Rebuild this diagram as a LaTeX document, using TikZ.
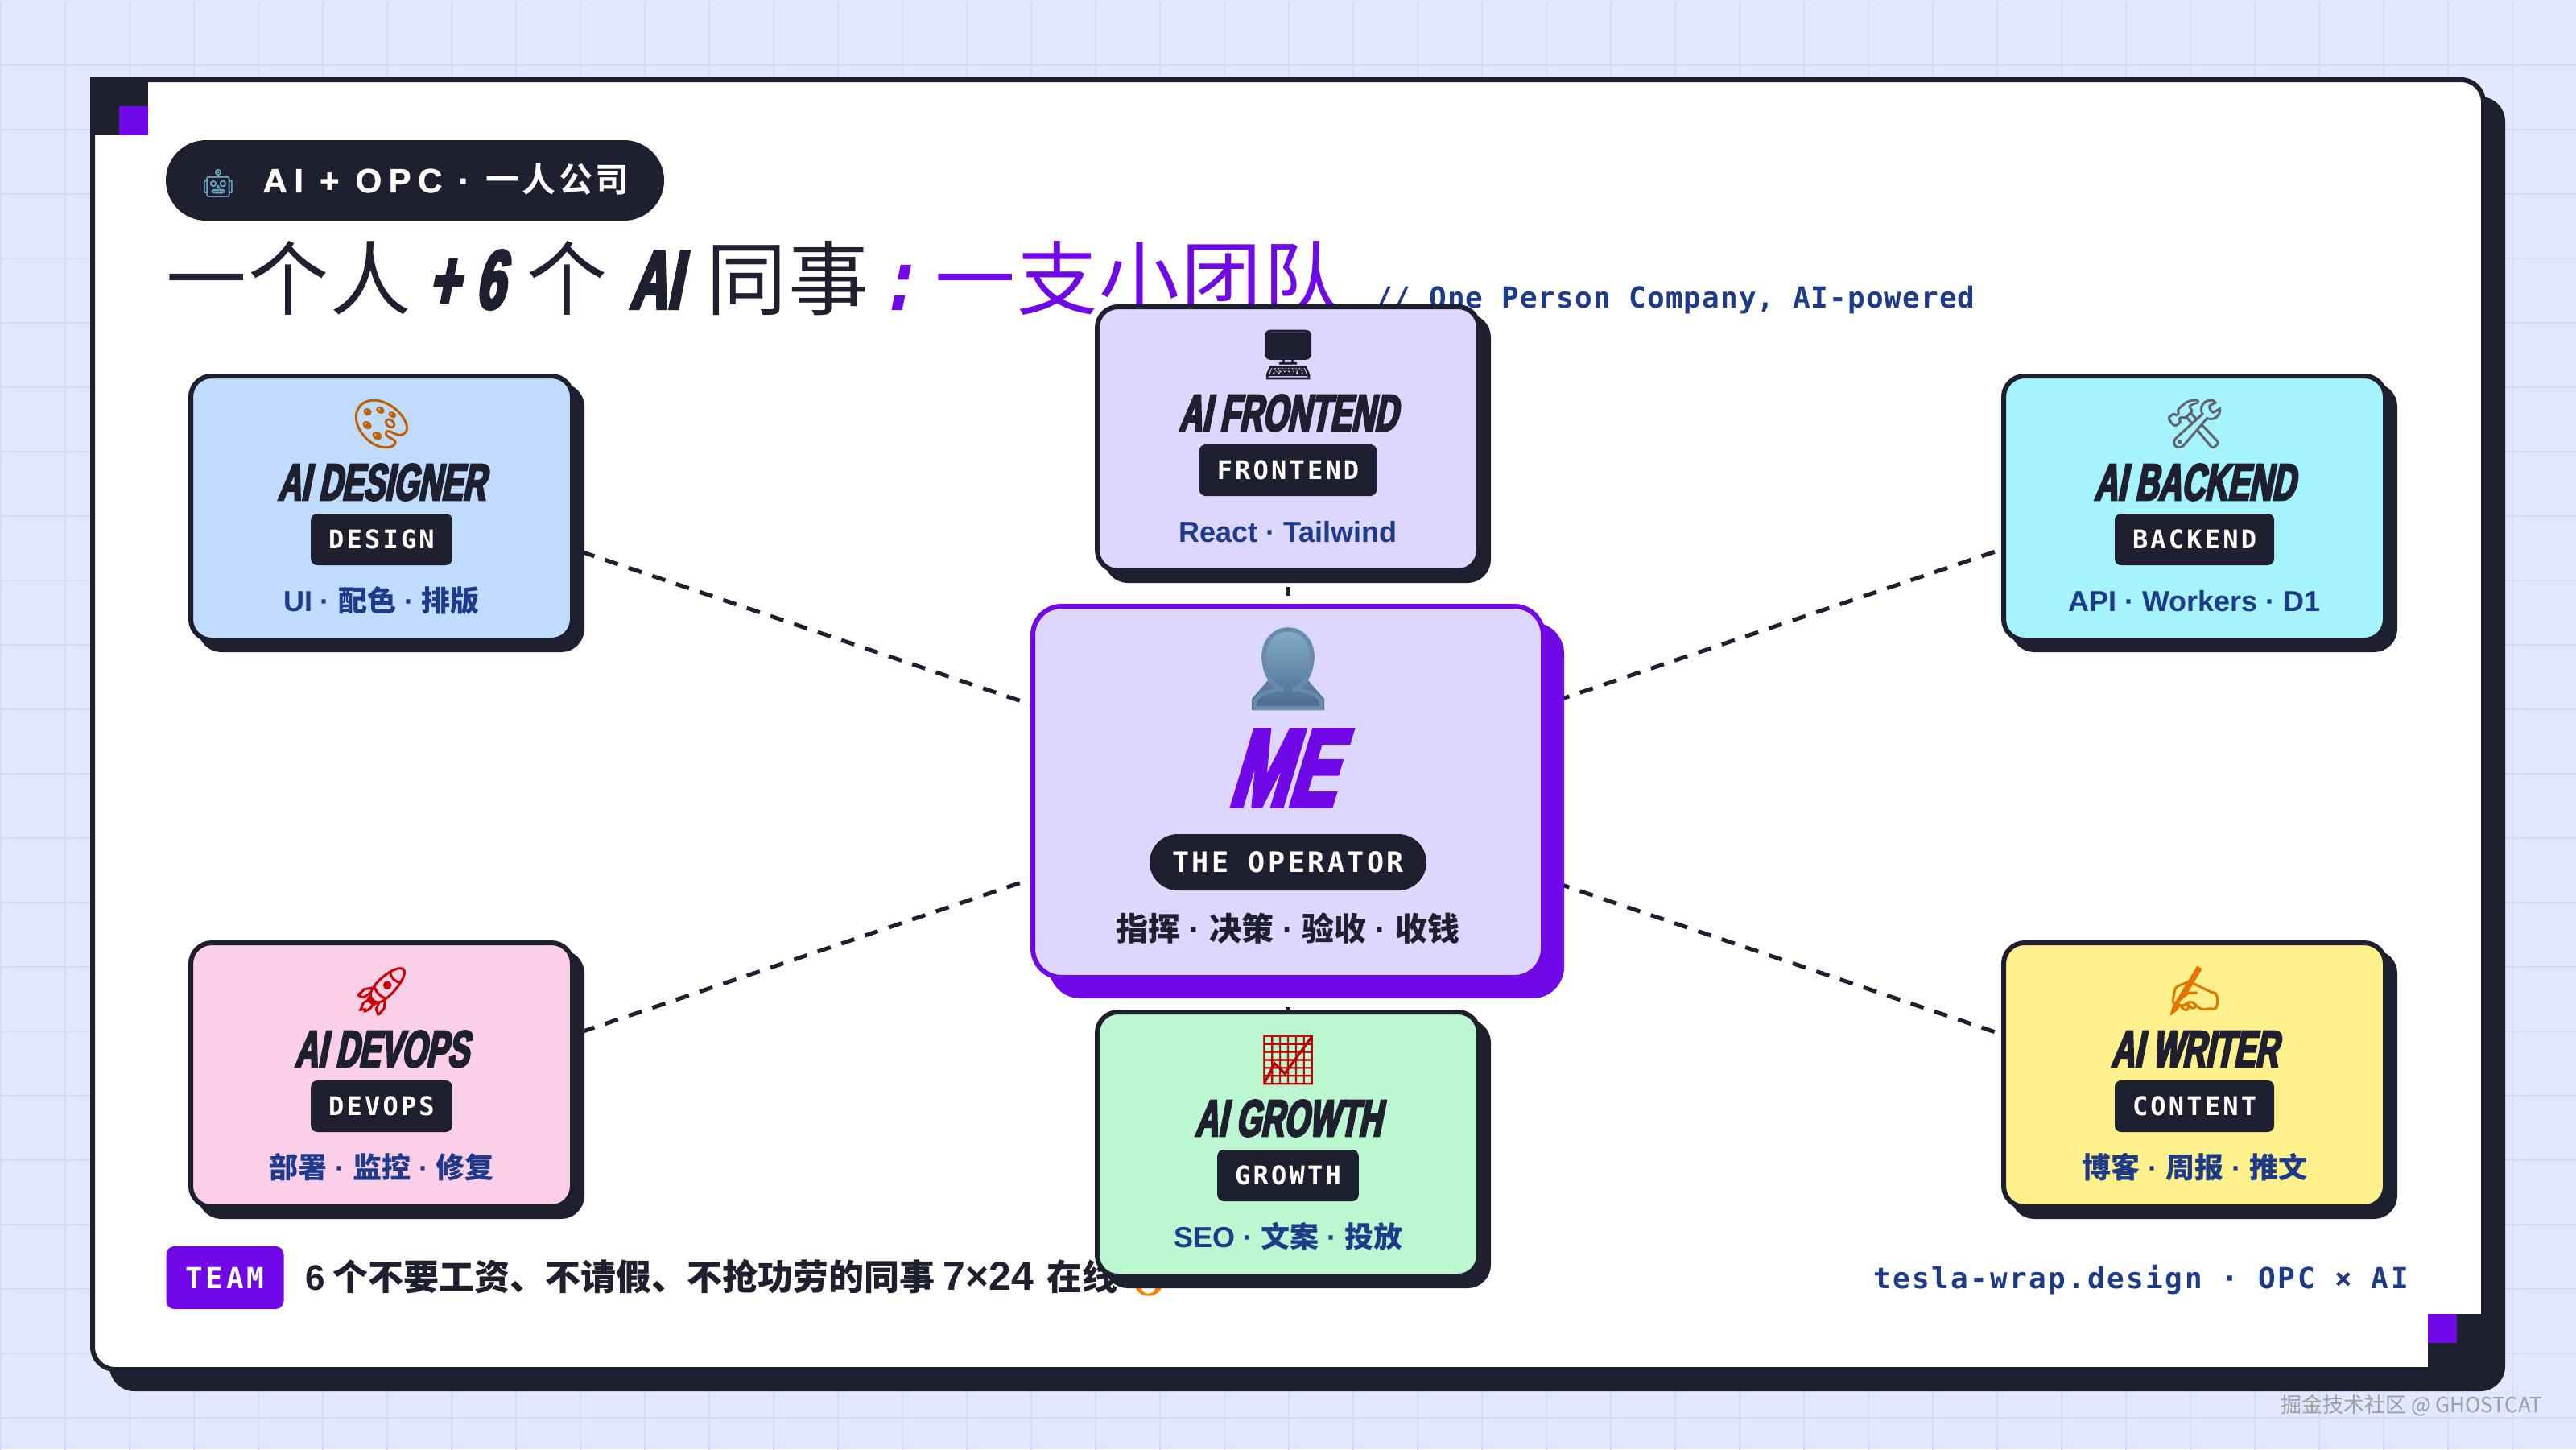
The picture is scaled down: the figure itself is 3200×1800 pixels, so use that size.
\documentclass[tikz,border=0pt]{standalone}
\usepackage{fontspec}
\setmainfont{Liberation Sans}
\newfontfamily\cjk{Noto Sans CJK SC}
\newfontfamily\cjktitle[LetterSpace=2]{Noto Sans CJK SC}
\newfontfamily\emojifont[FakeBold=1]{Noto Emoji}
\newfontfamily\comic[FakeStretch=0.62,FakeSlant=0.2,FakeBold=4]{Liberation Sans Bold}
\newfontfamily\comicbig[FakeStretch=0.64,FakeSlant=0.3,FakeBold=4]{Liberation Sans Bold}
\newfontfamily\tagfont[LetterSpace=10]{DejaVu Sans Mono Bold}
\newfontfamily\codefont[LetterSpace=3]{DejaVu Sans Mono Bold}
\newfontfamily\sitefont[LetterSpace=7]{DejaVu Sans Mono Bold}
\newfontfamily\badgefont[LetterSpace=20,FakeBold=1]{Liberation Sans Bold}
\newfontfamily\badgecjk[LetterSpace=8]{Noto Sans CJK SC Bold}
\usetikzlibrary{shadows, positioning}
\definecolor{ink}{HTML}{1E2030}
\definecolor{opcviolet}{HTML}{7008E7}
\definecolor{navy}{HTML}{1E3A8A}
\definecolor{paper}{HTML}{E0E7FF}
\definecolor{gridblue}{HTML}{D2DBFA}
\definecolor{lavender}{HTML}{DDD6FE}
\definecolor{skyfill}{HTML}{BFDBFE}
\definecolor{cyanfill}{HTML}{A5F3FC}
\definecolor{pinkfill}{HTML}{FBCFE8}
\definecolor{yellowfill}{HTML}{FEF08A}
\definecolor{greenfill}{HTML}{BBF7D0}
\definecolor{busttop}{HTML}{85AEC8}
\definecolor{bustbottom}{HTML}{4A6A8E}
\pgfdeclarelayer{back}
\pgfdeclarelayer{links}
\pgfsetlayers{back,links,main}
\tikzstyle{frame} = [rectangle, draw=ink, line width=6pt, fill=white, rounded corners=28pt, minimum width=2970pt, minimum height=1602pt, inner sep=0pt, outer sep=0pt, general shadow={shadow xshift=24pt, shadow yshift=-24pt, fill=ink, draw=ink, line width=6pt}]
\tikzstyle{card} = [rectangle, draw=ink, line width=6pt, rounded corners=26pt, minimum width=474pt, minimum height=328pt, inner sep=0pt, outer sep=0pt, general shadow={shadow xshift=12pt, shadow yshift=-12pt, fill=ink, draw=ink, line width=6pt}]
\tikzstyle{mecard} = [rectangle, draw=opcviolet, fill=lavender, line width=6pt, rounded corners=36pt, minimum width=634pt, minimum height=461pt, inner sep=0pt, outer sep=0pt, general shadow={shadow xshift=23pt, shadow yshift=-23pt, fill=opcviolet, draw=opcviolet, line width=6pt}]
\tikzstyle{cardicon} = [inner sep=0pt, outer sep=0pt, text height=48pt, text depth=8pt, font=\emojifont\fontsize{60}{60}\selectfont]
\tikzstyle{cardtitle} = [inner sep=0pt, outer sep=0pt, text=ink, text height=46pt, text depth=0pt, font=\comic\fontsize{64}{64}\selectfont]
\tikzstyle{cardtag} = [rectangle, fill=ink, text=white, rounded corners=8pt, minimum height=64pt, inner xsep=22pt, inner ysep=0pt, outer sep=0pt, text height=23pt, text depth=0pt, font=\tagfont\fontsize{32}{32}\selectfont]
\tikzstyle{cardsub} = [inner sep=0pt, outer sep=0pt, text=navy, text height=32pt, text depth=6pt, font=\fontsize{36}{36}\selectfont\bfseries]
\tikzstyle{link} = [draw=ink, line width=5pt, dash pattern=on 17pt off 14pt, dash phase=20pt]
\tikzstyle{shortlink} = [draw=ink, line width=5pt, dash pattern=on 11pt off 10.8pt]
\tikzstyle{square} = [rectangle, inner sep=0pt, outer sep=0pt]
\begin{document}
\begin{tikzpicture}[x=1pt, y=-1pt, node distance = 20pt]
	\useasboundingbox (0,0) rectangle (3200,1800);
	\begin{pgfonlayer}{back}
		\fill [paper] (0,0) rectangle (3200,1800);
		\draw [gridblue, line width=2pt, xshift=1pt, yshift=-1pt] (-1,1) grid [step=80pt] (3200,1800);
		\node (Frame) [frame] at (1600,900) {};
		\node (CornerTL) [square, fill=ink, minimum size=72pt, anchor=north west] at (112,96) {};
		\node (DotTL) [square, fill=opcviolet, minimum size=36pt, anchor=south east] at (CornerTL.south east) {};
		\node (CornerBR) [square, fill=ink, minimum size=72pt, anchor=north west] at (3016,1632) {};
		\node (DotBR) [square, fill=opcviolet, minimum size=36pt, anchor=north west] at (CornerBR.north west) {};
		\node (Badge) [rectangle, fill=ink, text=white, rounded corners=50pt, minimum width=619pt, minimum height=100pt, inner sep=0pt, outer sep=0pt, font=\badgefont\fontsize{42}{42}\selectfont] at (515.5,224) {{\emojifont\color{cyan!45!gray}\fontsize{34}{34}\selectfont 🤖}\hspace{34pt}AI + OPC · {\badgecjk 一人公司}};
		\node (Title) [anchor=base west, inner sep=0pt, text=ink, font=\cjktitle\fontsize{100}{100}\selectfont] at (206,383) {一个人\hspace{22pt}{\comic\fontsize{103}{103}\selectfont +\hspace{21pt}6}\hspace{28pt}个\hspace{28pt}{\comic\fontsize{103}{103}\selectfont AI}\hspace{32pt}同事\hspace{24pt}{\color{opcviolet}{\comic\fontsize{103}{103}\selectfont :}\hspace{36pt}一支小团队}};
		\node (Slogan) [anchor=base west, inner sep=0pt, text=navy, font=\codefont\fontsize{36}{36}\selectfont] at (1708,382) {// One Person Company, AI-powered};
		\node (Team) [rectangle, fill=opcviolet, text=white, rounded corners=10pt, minimum width=146pt, minimum height=78pt, inner sep=0pt, outer sep=0pt, font=\tagfont\fontsize{36}{36}\selectfont] at (279.5,1587) {TEAM};
		\node (Note) [anchor=base west, inner sep=0pt, text=ink, font=\cjk\fontsize{44}{44}\selectfont\bfseries] at (379,1602) {{\rmfamily\bfseries 6} 个不要工资、不请假、不抢功劳的同事 {\rmfamily\bfseries\fontsize{50}{50}\selectfont 7×24}\hspace{6pt} 在线 {\emojifont\color{orange}🔥}};
		\node (Site) [anchor=base east, inner sep=0pt, text=navy, font=\sitefont\fontsize{36}{36}\selectfont] at (2992,1600) {tesla-wrap.design · OPC × AI};
		\node (Mark) [anchor=base east, inner sep=0pt, text=gray!75, font=\cjk\fontsize{26}{26}\selectfont] at (3158,1754) {掘金技术社区 @ GHOSTCAT};
	\end{pgfonlayer}

	% centre card
	\node (Me) [mecard] at (1600,983.5) {};
	\shade [top color=busttop, bottom color=bustbottom] (1600,815) ellipse (33 and 36) (1575,845) -- (1625,845) -- (1645,868) -- (1645,882) -- (1555,882) -- (1555,868) -- cycle;
	\node (MeIcon) [inner sep=0pt, outer sep=0pt, text=busttop!50!bustbottom, text height=80pt, text depth=17pt, font=\emojifont\fontsize{100}{100}\selectfont, below = 32pt of Me.north] {👤};
	\node (MeTitle) [inner sep=0pt, outer sep=0pt, text=opcviolet, text height=98pt, text depth=0pt, xshift=-9pt, font=\comicbig\fontsize{137}{137}\selectfont, below = 21pt of MeIcon] {ME};
	\node (MeTag) [rectangle, fill=ink, text=white, rounded corners=35pt, minimum height=70pt, inner xsep=28pt, inner ysep=0pt, outer sep=0pt, text height=25pt, text depth=0pt, font=\tagfont\fontsize{35}{35}\selectfont, below = 35pt of MeTitle, xshift=9pt] {THE OPERATOR};
	\node (MeSub) [inner sep=0pt, outer sep=0pt, text=ink, text height=36pt, text depth=6pt, font=\fontsize{40}{40}\selectfont\bfseries, below = 26pt of MeTag] {{\cjk\bfseries 指挥} · {\cjk\bfseries 决策} · {\cjk\bfseries 验收} · {\cjk\bfseries 收钱}};

	% frontend
	\node (Frontend) [card, fill=lavender, above = 44pt of Me] {};
	\fill [ink] (1573,414) rectangle (1627,443);
	\node (FrontendIcon) [cardicon, text=ink, below = 32pt of Frontend.north] {🖥};
	\node (FrontendTitle) [cardtitle, below = of FrontendIcon] {AI FRONTEND};
	\node (FrontendTag) [cardtag, below = 17pt of FrontendTitle] {FRONTEND};
	\node (FrontendSub) [cardsub, below = 25pt of FrontendTag] {React · Tailwind};

	% growth
	\node (Growth) [card, fill=greenfill, below = 43pt of Me] {};
	\node (GrowthIcon) [cardicon, text=red!75!black, below = 32pt of Growth.north] {📈};
	\node (GrowthTitle) [cardtitle, below = of GrowthIcon] {AI GROWTH};
	\node (GrowthTag) [cardtag, below = 17pt of GrowthTitle] {GROWTH};
	\node (GrowthSub) [cardsub, below = 25pt of GrowthTag] {SEO · {\cjk\bfseries 文案} · {\cjk\bfseries 投放}};

	% designer
	\node (Designer) [card, fill=skyfill] at (474,631) {};
	\node (DesignerIcon) [cardicon, text=orange!75!black, below = 32pt of Designer.north] {🎨};
	\node (DesignerTitle) [cardtitle, below = of DesignerIcon] {AI DESIGNER};
	\node (DesignerTag) [cardtag, below = 17pt of DesignerTitle] {DESIGN};
	\node (DesignerSub) [cardsub, below = 25pt of DesignerTag] {UI · {\cjk\bfseries 配色} · {\cjk\bfseries 排版}};

	% backend
	\node (Backend) [card, fill=cyanfill, right = 1778pt of Designer] {};
	\node (BackendIcon) [cardicon, text=ink!70, below = 32pt of Backend.north] {🛠};
	\node (BackendTitle) [cardtitle, below = of BackendIcon] {AI BACKEND};
	\node (BackendTag) [cardtag, below = 17pt of BackendTitle] {BACKEND};
	\node (BackendSub) [cardsub, below = 25pt of BackendTag] {API · Workers · D1};

	% devops
	\node (DevOps) [card, fill=pinkfill, below = 376pt of Designer] {};
	\node (DevOpsIcon) [cardicon, text=red!80!black, below = 32pt of DevOps.north] {🚀};
	\node (DevOpsTitle) [cardtitle, below = of DevOpsIcon] {AI DEVOPS};
	\node (DevOpsTag) [cardtag, below = 17pt of DevOpsTitle] {DEVOPS};
	\node (DevOpsSub) [cardsub, below = 25pt of DevOpsTag] {{\cjk\bfseries 部署} · {\cjk\bfseries 监控} · {\cjk\bfseries 修复}};

	% writer
	\node (Writer) [card, fill=yellowfill, right = 1778pt of DevOps] {};
	\node (WriterIcon) [cardicon, text=orange!90!black, below = 32pt of Writer.north] {✍};
	\node (WriterTitle) [cardtitle, below = of WriterIcon] {AI WRITER};
	\node (WriterTag) [cardtag, below = 17pt of WriterTitle] {CONTENT};
	\node (WriterSub) [cardsub, below = 25pt of WriterTag] {{\cjk\bfseries 博客} · {\cjk\bfseries 周报} · {\cjk\bfseries 推文}};

	\begin{pgfonlayer}{links}
		\draw [link] (Me.center) -- ([yshift=30pt]Designer.center);
		\draw [link] (Me.center) -- ([yshift=30pt]Backend.center);
		\draw [link] (Me.center) -- ([yshift=-31pt]DevOps.center);
		\draw [link] (Me.center) -- ([yshift=-31pt]Writer.center);
		\draw [shortlink, dash phase=12.7pt] (Frontend.center) -- (Me.center);
		\draw [shortlink, dash phase=15.9pt] (Me.center) -- (Growth.center);
	\end{pgfonlayer}
\end{tikzpicture}
\end{document}
